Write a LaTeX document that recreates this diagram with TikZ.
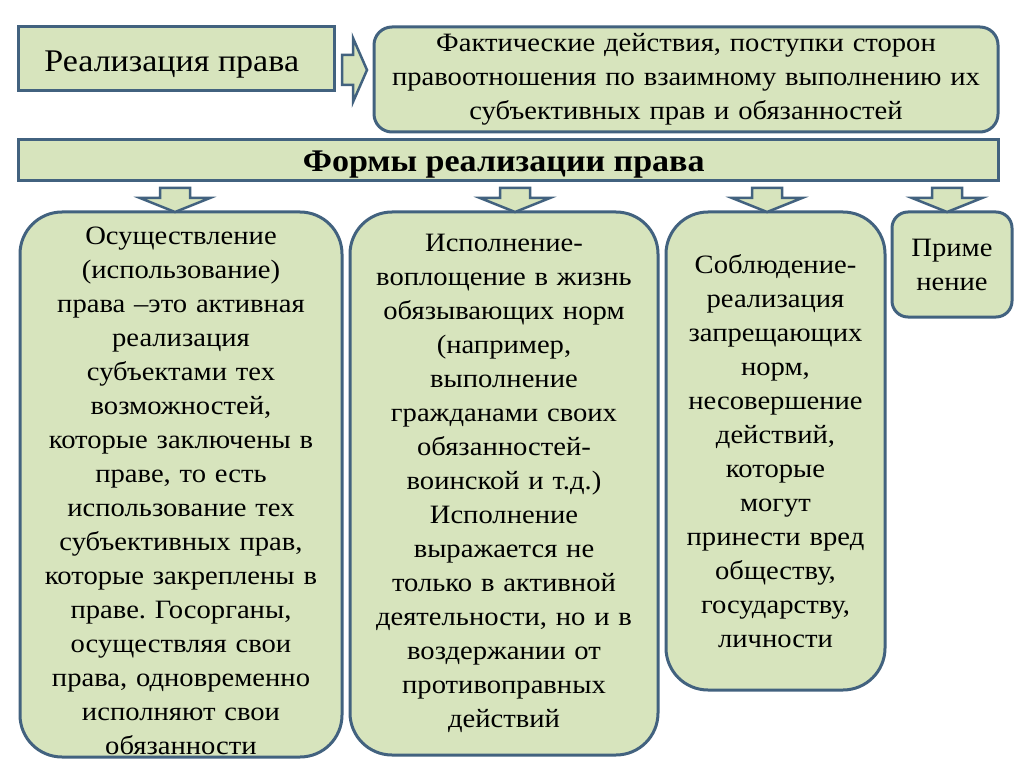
\documentclass[tikz,border=0pt]{standalone}
\usepackage{fontspec}
\setmainfont{Liberation Serif}[FakeStretch=1.08]
\frenchspacing
\usetikzlibrary{positioning}
\definecolor{boxfill}{HTML}{D7E4BD}
\definecolor{boxline}{HTML}{42627F}
\tikzset{
  box/.style={
    draw=boxline,
    line width=3pt,
    fill=boxfill,
    align=center,
    inner sep=0pt,
    font=\fontsize{26.5}{34}\selectfont
  },
  titlebox/.style={
    box,
    font=\fontsize{31.5}{34}\selectfont
  },
  bandbox/.style={
    box,
    font=\fontsize{31.5}{34}\selectfont\bfseries
  },
  formbox/.style={
    box,
    rounded corners=42pt
  },
  smallbox/.style={
    box,
    rounded corners=16pt
  },
  blockarrow/.style={
    draw=boxline,
    line width=2.5pt,
    fill=boxfill,
    line join=miter
  }
}

\begin{document}
\begin{tikzpicture}[x=1pt, y=-1pt]

\useasboundingbox[fill=white] (0,0) rectangle (1024,767);

\node[titlebox, minimum width=316pt, minimum height=64pt] (realiz) at (176,59) {
  \raisebox{-12.5pt}[0pt][0pt]{Реализация права}
};

\node[box, rounded corners=18pt, minimum width=624pt, minimum height=105pt, text width=610pt] (fakt) at (686,79.5) {
  Фактические действия, поступки сторон\\
  правоотношения по взаимному выполнению их\\
  субъективных прав и обязанностей
};

\node[bandbox, minimum width=980pt, minimum height=41pt] (formy) at (508,160.5) {
  \raisebox{-11pt}[0pt][0pt]{Формы реализации права}
};

\node[formbox, minimum width=322pt, minimum height=545pt, text width=316pt] (osush) at (181,484.5) {
  \rule{0pt}{31pt}Осуществление\\
  (использование)\\
  права –это активная\\
  реализация\\
  субъектами тех\\
  возможностей,\\
  которые заключены в\\
  праве, то есть\\
  использование тех\\
  субъективных прав,\\
  которые закреплены в\\
  праве. Госорганы,\\
  осуществляя свои\\
  права, одновременно\\
  исполняют свои\\
  обязанности
};

\node[formbox, minimum width=308pt, minimum height=543pt, text width=300pt] (ispoln) at (504,483.5) {
  Исполнение-\\
  воплощение в жизнь\\
  обязывающих норм\\
  (например,\\
  выполнение\\
  гражданами своих\\
  обязанностей-\\
  воинской и т.д.)\\
  Исполнение\\
  выражается не\\
  только в активной\\
  деятельности, но и в\\
  воздержании от\\
  противоправных\\
  действий
};

\node[formbox, minimum width=219pt, minimum height=478pt, text width=212pt] (sobl) at (775.5,451) {
  Соблюдение-\\
  реализация\\
  запрещающих\\
  норм,\\
  несовершение\\
  действий,\\
  которые\\
  могут\\
  принести вред\\
  обществу,\\
  государству,\\
  личности
};

\node[smallbox, minimum width=120pt, minimum height=105pt, text width=114pt] (prim) at (952,264.5) {
  Приме\\
  нение
};

\draw[blockarrow] (342,55) -- (353,55) -- (353,38) -- (367,70) -- (353,102) -- (353,85) -- (342,85) -- cycle;

\foreach \ax in {175,515,767,947}
  \draw[blockarrow, shift={(\ax,188)}] (-15,0) -- (15,0) -- (15,10) -- (35,10) -- (0,24) -- (-35,10) -- (-15,10) -- cycle;

\end{tikzpicture}
\end{document}
